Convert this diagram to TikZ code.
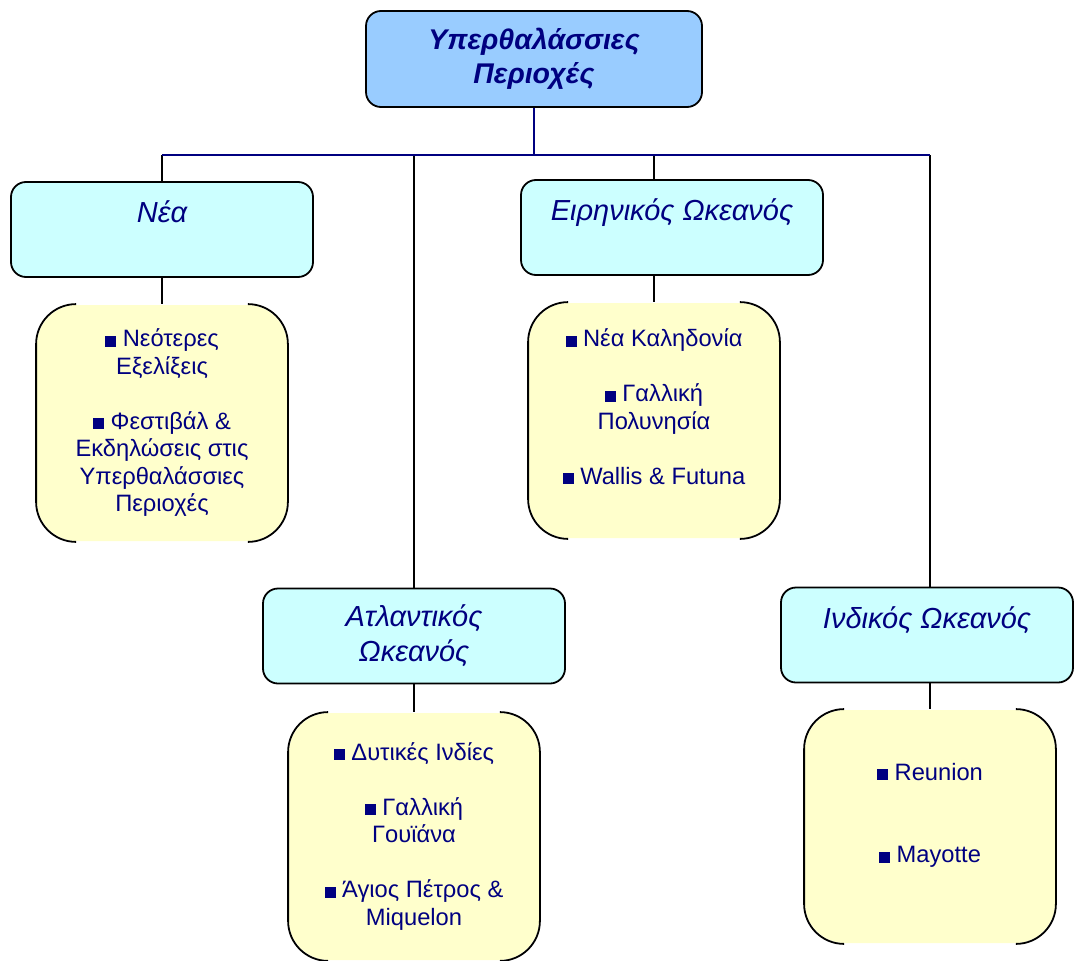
\documentclass[tikz,border=0pt]{standalone}
\usepackage{fontspec}
\setmainfont{Liberation Sans}
\definecolor{navyText}{HTML}{000080}
\definecolor{rootFill}{HTML}{99CCFF}
\definecolor{catFill}{HTML}{CCFFFF}
\definecolor{leafFill}{HTML}{FFFFCC}
\newcommand{\sqbullet}{\rule{11pt}{11pt}\ }

\begin{document}
\begin{tikzpicture}
[x=1pt,y=-1pt,line width=1.8pt,%
  rootDecorate/.style={draw,fill=rootFill,rounded corners=15pt,minimum width=336pt,minimum height=96pt,%
    align=center,text=navyText,font=\fontsize{28.5}{34}\selectfont\bfseries\itshape},%
  catDecorate/.style={draw,fill=catFill,rounded corners=15pt,minimum width=302pt,minimum height=95pt,%
    align=center,text=navyText,font=\fontsize{29}{35}\selectfont\itshape},%
  leafDecorate/.style={fill=leafFill,rounded corners=40pt,minimum width=250pt,%
    align=center,text=navyText,font=\fontsize{23.7}{27.5}\selectfont},%
  busLine/.style={draw=navyText},%
  dropLine/.style={draw=black}]
\useasboundingbox (0,0) rectangle (1074,961);
%% main boxes
\node[rootDecorate] (root) at (534,59) {Υπερθαλάσσιες\\Περιοχές};
\node[catDecorate] (nea) at (162,229.5) {Νέα\\~};
\node[catDecorate] (pacific) at (672,227.5) {Ειρηνικός Ωκεανός\\~};
\node[catDecorate] (atlantic) at (414,636) {Ατλαντικός\\Ωκεανός};
\node[catDecorate,minimum width=292pt] (indian) at (927,635) {Ινδικός Ωκεανός\\~};
%% lists
\node[leafDecorate,minimum height=236pt] (neaList) at (162,423)
  {\sqbullet Νεότερες\\Εξελίξεις\\[27.5pt]\sqbullet Φεστιβάλ \&\\Εκδηλώσεις στις\\Υπερθαλάσσιες\\Περιοχές};
\node[leafDecorate,minimum height=235pt] (pacList) at (654,420.5)
  {\sqbullet Νέα Καληδονία\\[27.5pt]\sqbullet Γαλλική\\Πολυνησία\\[27.5pt]\sqbullet Wallis \& Futuna\\~};
\node[leafDecorate,minimum height=247pt] (atlList) at (414,836.5)
  {\sqbullet Δυτικές Ινδίες\\[27.5pt]\sqbullet Γαλλική\\Γουϊάνα\\[27.5pt]\sqbullet Άγιος Πέτρος \&\\Miquelon};
\node[leafDecorate,minimum height=233pt] (indList) at (930,826.5)
  {\sqbullet Reunion\\[55pt]\sqbullet Mayotte\\~};
%% list outlines: corners and sides only
\foreach \n in {neaList,pacList,atlList,indList}
{
  \draw[rounded corners=40pt] ([xshift=40pt]\n.north west) -- (\n.north west)
    -- (\n.south west) -- ([xshift=40pt]\n.south west);
  \draw[rounded corners=40pt] ([xshift=-40pt]\n.north east) -- (\n.north east)
    -- (\n.south east) -- ([xshift=-40pt]\n.south east);
}
%% connectors
\coordinate (bus) at (534,155);
\foreach \top/\bot in {nea/neaList,pacific/pacList,atlantic/atlList,indian/indList}
{
  \draw[dropLine] (bus -| \bot) -- (\top.north -| \bot);
  \draw[dropLine] (\top.south -| \bot) -- (\bot.north);
}
\draw[busLine] (root) -- (bus);
\draw[busLine] (bus -| neaList) -- (bus -| indList);
\end{tikzpicture}
\end{document}
